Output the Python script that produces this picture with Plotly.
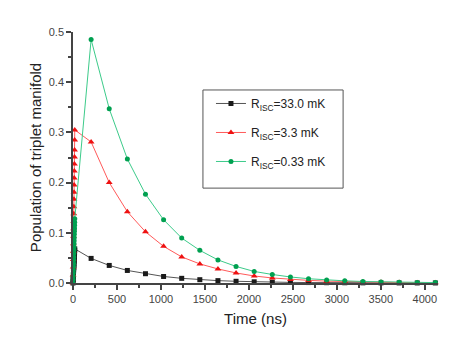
import plotly.graph_objects as go

# early rise, 0..20 ns
t_rise = [0, 1, 2, 3, 4, 5, 6, 7, 8, 9, 10, 11, 12, 13, 14, 15, 16, 17, 18, 19, 20]
# decay, sampled every ~206 ns
t_decay = [206, 412, 618, 824, 1030, 1236, 1442, 1648, 1854, 2060,
           2266, 2472, 2678, 2884, 3090, 3296, 3502, 3708, 3914, 4120]

black_rise = [0, 0.0035, 0.007, 0.0105, 0.014, 0.0175, 0.021, 0.024, 0.028, 0.031, 0.035,
              0.038, 0.042, 0.045, 0.048, 0.052, 0.055, 0.058, 0.061, 0.065, 0.068]
black_decay = [0.049, 0.035, 0.025, 0.0185, 0.013, 0.0093, 0.0066, 0.0047, 0.0034, 0.0024,
               0.0017, 0.0012, 0.0009, 0.0006, 0.00045, 0.0003, 0.0002, 0.00015, 0.0001, 0.00008]

red_rise = [0.000, 0.016, 0.032, 0.047, 0.063, 0.078, 0.093, 0.108, 0.123, 0.138, 0.152,
            0.167, 0.181, 0.195, 0.209, 0.223, 0.237, 0.251, 0.265, 0.285, 0.305]
red_decay = [0.281, 0.200, 0.142, 0.102, 0.073, 0.052, 0.038, 0.028, 0.020, 0.014,
             0.010, 0.0072, 0.0052, 0.0037, 0.0027, 0.0019, 0.0014, 0.0010, 0.0007, 0.0005]

green_rise = [0, 0.007, 0.013, 0.020, 0.026, 0.033, 0.039, 0.046, 0.052, 0.059, 0.065,
              0.071, 0.078, 0.084, 0.090, 0.097, 0.103, 0.109, 0.115, 0.121, 0.128]
green_decay = [0.485, 0.347, 0.247, 0.177, 0.126, 0.0895, 0.065, 0.046, 0.033, 0.023,
               0.017, 0.012, 0.0085, 0.006, 0.0043, 0.003, 0.0022, 0.0016, 0.0011, 0.0008]

series = [
    ("R<sub>ISC</sub>=33.0 mK", black_rise + black_decay, "#1a1a1a", "#555555", "square", 5),
    ("R<sub>ISC</sub>=3.3 mK", red_rise + red_decay, "#ee1111", "#ff5a5a", "triangle-up", 6),
    ("R<sub>ISC</sub>=0.33 mK", green_rise + green_decay, "#00a050", "#3ccb8a", "circle", 5),
]

fig = go.Figure()
for i, (name, ys, mcol, lcol, sym, sz) in enumerate(series):
    fig.add_trace(go.Scatter(
        x=t_rise + t_decay, y=ys, name=name, mode="lines+markers",
        line=dict(color=lcol, width=1),
        marker=dict(color=mcol, symbol=sym, size=sz),
        legendgroup=str(i), cliponaxis=False,
    ))

axis_common = dict(
    showline=True, linecolor="#444", linewidth=1.5, mirror=False,
    ticks="outside", ticklen=5, tickwidth=1.5, tickcolor="#444",
    showgrid=False, zeroline=False, automargin=False,
    tickfont=dict(family="Arial, Liberation Sans, sans-serif", size=11, color="#444"),
)

fig.update_xaxes(
    range=[0, 4150], dtick=500, tick0=0,
    minor=dict(dtick=250, ticks="outside", ticklen=3, tickcolor="#444"),
    title=dict(text="Time (ns)", font=dict(size=15, color="#222"), standoff=10),
    **axis_common,
)
fig.update_yaxes(
    range=[0, 0.5], dtick=0.1, tick0=0, tickformat=".1f",
    minor=dict(dtick=0.05, ticks="outside", ticklen=3, tickcolor="#444"),
    title=dict(text="Population of triplet manifold", font=dict(size=15, color="#222"), standoff=4),
    **axis_common,
)

# legend frame drawn as a shape so the entries can sit where they do in the original
fig.add_shape(type="rect", xref="paper", yref="paper",
              x0=0.356, x1=0.740, y0=0.378, y1=0.769,
              line=dict(color="#555", width=1), fillcolor="white", layer="below")

fig.update_layout(
    width=463, height=354,
    margin=dict(l=73, r=25, t=32, b=71),
    paper_bgcolor="white", plot_bgcolor="white",
    font=dict(family="Arial, Liberation Sans, sans-serif"),
    legend=dict(
        x=0.378, y=0.773, xanchor="left", yanchor="top",
        borderwidth=0, bgcolor="rgba(0,0,0,0)",
        font=dict(size=12, color="#222"), tracegroupgap=10,
        itemwidth=30,
    ),
)

fig.write_html("out.html", config={"displayModeBar": False},
               post_script="document.body.style.margin='0';")
